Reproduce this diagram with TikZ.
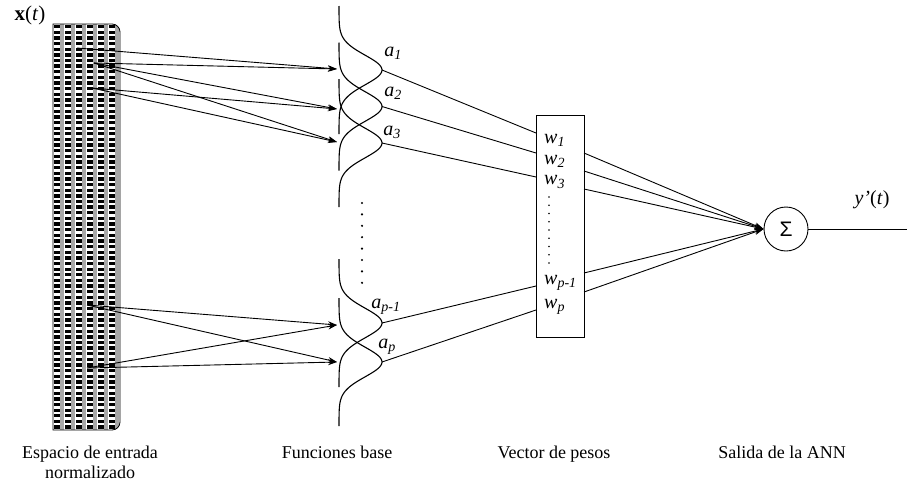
\documentclass[tikz,border=0pt]{standalone}
\usepackage{fontspec}
\setmainfont{Liberation Serif}
\newfontfamily\sigmafont{Liberation Sans}
\usetikzlibrary{arrows.meta,calc}
\tikzset{
  conn/.style={line width=0.9pt},
  arr/.style={line width=0.9pt,-{Stealth[length=9pt,width=6pt]}},
  gauss/.style={line width=1.1pt},
  lbl/.style={font=\fontsize{20}{22}\selectfont,inner sep=0pt},
  captxt/.style={font=\fontsize{18}{20}\selectfont,inner sep=0pt,anchor=base},
}
\begin{document}
\begin{tikzpicture}[x=1pt,y=-1pt]
\useasboundingbox (0,0) rectangle (907,482);
% input space
\def\inpath{(53,24) -- (112,24) arc[start angle=-90,end angle=0,radius=8] -- (120,422) arc[start angle=0,end angle=90,radius=8] -- (53,430) -- cycle}
\begin{scope}
\clip \inpath;
\fill[white] (53,24) rectangle (120,430);
\foreach \i in {0,...,5} {
  \fill[black!35] ({60.4+11*\i},24) rectangle ({64.4+11*\i},430);
  \foreach \j in {0,...,72}
    \fill ({54.4+11*\i},{25+5.64*\j}) rectangle ({60+11*\i},{28.3+5.64*\j});
}
\end{scope}
\draw[line width=0.8pt] \inpath;
\node[lbl,font=\fontsize{21}{22}\selectfont] (xt) at (30,15) {\textbf{x}(\textit{t})};
% sources and tips
\coordinate (s1) at (77,48);
\coordinate (s2) at (94,63);
\coordinate (s3) at (92,88);
\coordinate (s4) at (87,305);
\coordinate (s5) at (87,368);
\coordinate (t1) at (337,69);
\coordinate (t2) at (337,109);
\coordinate (t3) at (337,142);
\coordinate (t4) at (337,325);
\coordinate (t5) at (337,362);
\draw[arr] (s1) -- (t1);
\draw[arr] (s2) -- (t1);
\draw[arr] (s2) -- (t2);
\draw[arr] (s2) -- (t3);
\draw[arr] (s3) -- (t2);
\draw[arr] (s3) -- (t3);
\draw[arr] (s4) -- (t4);
\draw[arr] (s4) -- (t5);
\draw[arr] (s5) -- (t4);
\draw[arr] (s5) -- (t5);
% gaussians
\foreach \c in {70,106.5,143,323,362}
  \draw[gauss] plot[domain=-64:64,samples=90,smooth] ({339+43*exp(-(\x*\x)/440)},{\c+\x});
\coordinate (p1) at (382,70);
\coordinate (p2) at (382,106.5);
\coordinate (p3) at (382,143);
\coordinate (p4) at (382,323);
\coordinate (p5) at (382,362);
\foreach \k in {0,...,7} \fill (362,{203+11.4*\k}) circle (1.2);
\node[lbl] (a1) at (393,53) {\textit{a}\textsubscript{\textit{1}}};
\node[lbl] (a2) at (393,93) {\textit{a}\textsubscript{\textit{2}}};
\node[lbl] (a3) at (392,132) {\textit{a}\textsubscript{\textit{3}}};
\node[lbl] (ap1) at (386,307) {\textit{a}\textsubscript{\textit{p-1}}};
\node[lbl] (ap) at (387,347) {\textit{a}\textsubscript{\textit{p}}};
% weight box
\node[draw,line width=0.9pt,minimum width=48pt,minimum height=222pt,inner sep=0pt] (wbox) at (560,226) {};
\coordinate (b1) at (536,133);
\coordinate (b2) at (536,153);
\coordinate (b3) at (536,177);
\coordinate (b4) at (536,286);
\coordinate (b5) at (536,310);
\draw[conn] (p1) -- (b1);
\draw[conn] (p2) -- (b2);
\draw[conn] (p3) -- (b3);
\draw[conn] (p4) -- (b4);
\draw[conn] (p5) -- (b5);
\node[lbl,anchor=west] (w1) at (544,140) {\textit{w}\textsubscript{\textit{1}}};
\node[lbl,anchor=west] (w2) at (544,161) {\textit{w}\textsubscript{\textit{2}}};
\node[lbl,anchor=west] (w3) at (544,182) {\textit{w}\textsubscript{\textit{3}}};
\node[lbl,anchor=west] (wp1) at (544,283) {\textit{w}\textsubscript{\textit{p-1}}};
\node[lbl,anchor=west] (wp) at (544,307) {\textit{w}\textsubscript{\textit{p}}};
\foreach \k in {0,...,8} \fill (549,{197+8.25*\k}) circle (0.9);
% sum
\node[draw,circle,line width=0.9pt,minimum size=44pt,inner sep=0pt,font=\sigmafont\fontsize{21}{22}\selectfont] (sig) at (786,229) {Σ};
\coordinate (r1) at (584,153);
\coordinate (r2) at (584,171);
\coordinate (r3) at (584,189);
\coordinate (r4) at (584,273);
\coordinate (r5) at (584,292);
\foreach \r in {r1,r2,r3,r4,r5} \draw[arr] (\r) -- (sig.west);
\coordinate (out) at (907,229);
\draw[conn] (sig.east) -- (out);
\node[lbl] (yt) at (872,200) {\textit{y’}(\textit{t})};
% captions
\node[captxt] (c1) at (90,458) {Espacio de entrada};
\node[captxt] (c1b) at (90,478) {normalizado};
\node[captxt] (c2) at (337,458) {Funciones base};
\node[captxt] (c3) at (554,458) {Vector de pesos};
\node[captxt] (c4) at (782,458) {Salida de la ANN};
\end{tikzpicture}
\end{document}
